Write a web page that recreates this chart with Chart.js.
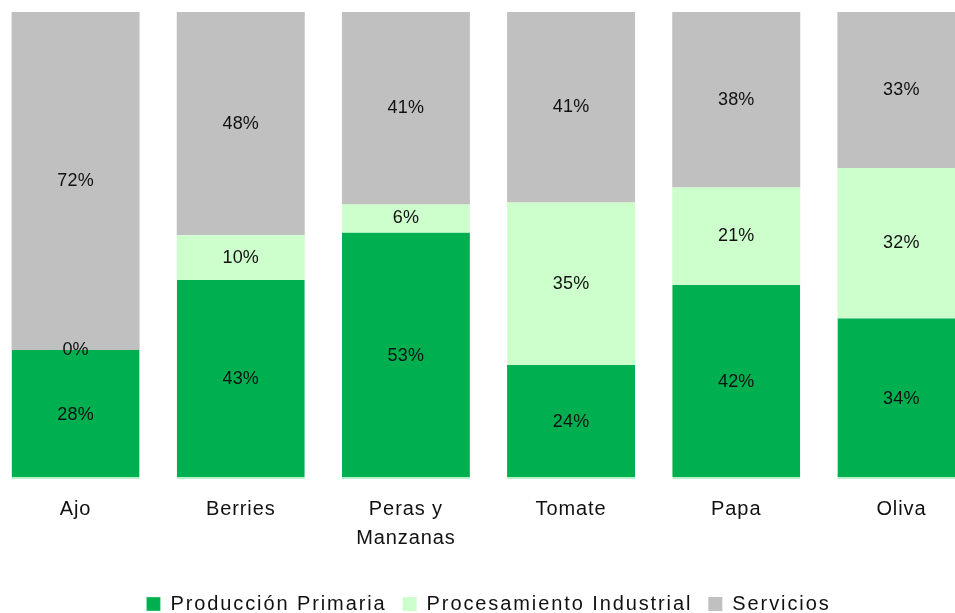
<!DOCTYPE html>
<html>
<head>
<meta charset="utf-8">
<script src="https://cdn.jsdelivr.net/npm/chart.js@4"></script>
<style>
html,body{margin:0;padding:0;background:#fff;overflow:hidden;width:955px;height:613px;position:relative;}
#wrap{position:absolute;left:-7px;top:0;width:991px;height:624px;}
</style>
</head>
<body>
<div id="wrap"><canvas id="c" width="991" height="624"></canvas></div>
<script>
const categories = [["Ajo"], ["Berries"], ["Peras y", "Manzanas"], ["Tomate"], ["Papa"], ["Oliva"]];
const seriesNames = ["Producción Primaria", "Procesamiento Industrial", "Servicios"];
const produccionPrimaria = [27.6, 42.6, 52.8, 24.4, 41.6, 34.4];
const procesamientoIndustrial = [0, 9.6, 6.0, 34.8, 20.8, 32.2];
const servicios = [72.4, 47.8, 41.2, 40.8, 37.6, 33.4];

const FONT = "'Liberation Sans', Arial, sans-serif";
const LEGEND_SPACING = "1.9px";
const TICK_SPACING = "0.9px";
const LABEL_SPACING = "0.2px";

const spacingPlugin = {
  id: 'spacing',
  beforeUpdate(chart) { chart.ctx.letterSpacing = LEGEND_SPACING; },
  beforeLayout(chart) { chart.ctx.letterSpacing = LEGEND_SPACING; },
  afterLayout(chart) {
    const sx = chart.scales.x;
    if (sx && !sx._wrappedLabels) {
      const orig = sx.drawLabels;
      sx.drawLabels = function (area) {
        const ctx = this.ctx;
        const prev = ctx.letterSpacing;
        ctx.letterSpacing = TICK_SPACING;
        orig.call(this, area);
        ctx.letterSpacing = prev;
      };
      sx._wrappedLabels = true;
    }
  },
  beforeDraw(chart) { chart.ctx.letterSpacing = LEGEND_SPACING; }
};

const labelPlugin = {
  id: 'barLabels',
  afterDatasetsDraw(chart) {
    const ctx = chart.ctx;
    ctx.save();
    ctx.letterSpacing = LABEL_SPACING;
    ctx.font = "18px " + FONT;
    ctx.fillStyle = "#111";
    ctx.textAlign = "center";
    ctx.textBaseline = "middle";
    chart.data.datasets.forEach((ds, i) => {
      const meta = chart.getDatasetMeta(i);
      meta.data.forEach((el, j) => {
        const c = el.getCenterPoint();
        ctx.fillText(Math.round(ds.data[j]) + "%", c.x, c.y);
      });
    });
    ctx.restore();
  }
};

new Chart(document.getElementById('c'), {
  type: 'bar',
  data: {
    labels: categories,
    datasets: [
      { label: seriesNames[0], data: produccionPrimaria, backgroundColor: '#00b050',
        borderColor: '#b8f0c8', borderWidth: {top:0,left:0,right:0,bottom:2}, borderSkipped: false },
      { label: seriesNames[1], data: procesamientoIndustrial, backgroundColor: '#ccffcc', borderWidth: 0 },
      { label: seriesNames[2], data: servicios, backgroundColor: '#c0c0c0', borderWidth: 0 }
    ]
  },
  options: {
    responsive: false,
    animation: false,
    events: [],
    layout: { padding: { top: 12, left: 0, right: 0, bottom: 0 } },
    datasets: { bar: { barPercentage: 0.775, categoryPercentage: 1 } },
    scales: {
      x: {
        stacked: true,
        grid: { display: false, drawTicks: false },
        border: { display: false },
        ticks: { color: '#111', font: { family: FONT, size: 20, lineHeight: '29px' }, padding: 16, maxRotation: 0, autoSkip: false },
        afterFit(scale) {
          const lg = scale.chart.legend;
          const lh = (lg && lg.height) ? lg.height : 52;
          scale.height = scale.chart.height - lh - 479;
        }
      },
      y: {
        stacked: true, display: false, min: 0, max: 100
      }
    },
    plugins: {
      tooltip: { enabled: false },
      legend: {
        position: 'bottom',
        labels: {
          color: '#111',
          font: { family: FONT, size: 20 },
          boxWidth: 14, boxHeight: 14, padding: 16
        }
      }
    }
  },
  plugins: [spacingPlugin, labelPlugin]
});
</script>
</body>
</html>
